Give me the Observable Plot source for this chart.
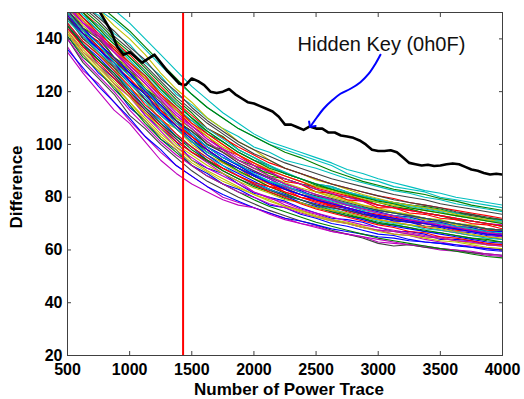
<!DOCTYPE html>
<html>
<head>
<meta charset="utf-8">
<script src="https://cdn.jsdelivr.net/npm/d3@7"></script>
<script src="https://cdn.jsdelivr.net/npm/@observablehq/plot@0.6"></script>
<style>
  html, body { margin: 0; padding: 0; background: #fff; }
  #chart svg { display: block; }
</style>
</head>
<body>
<div id="chart"></div>
<script>
// ---- data ----
const traceCounts = [500,625,750,875,1000,1125,1250,1375,1500,1625,1750,1875,2000,2125,2250,2375,2500,2625,2750,2875,3000,3125,3250,3375,3500,3625,3750,3875,4000];

const keyTraces = [
  [144,138,130,125,119,111,106,101,94,91,89,85,81.5,80,78.5,76,74,72,71.5,70.5,68.5,67,67,66,64,64,63.5,62,62],
  [153,144,141,133,129,121,117,110,106,100,98,94,92,88,87,85,83,81,80,79,77,76,75.5,74,73,71.5,71,70,69],
  [149,140,137,129,125,117,113,107,101,98,93,91,87,84,83,80,79,76.5,76,73.5,73,71,71,69,69,67.5,67,66.5,65],
  [162,157,151,147,142,136,130,124,119,114,110,106,103,100,98,96,94,92,89,87,86,84,83,82,80,79,78,77,76],
  [137,128,123,116,109,103,97,92,88,84,80,78,76,74,72,70,69,67,66,65,63,62.5,62,61,60,59.5,59,58,57.5],
  [156,150,144,140,133,128,121,116,110,104,100,96,93,89,87,85,82,80.5,79,77,76,74.5,73,72,71,70,69,68,67],
  [155,148,143,136,131,126,119,113,109,104,101,97,94,92,89,87,85,84,82,80.5,79,78,77,76,75,74,73,72,71],
  [141,134,127,122,114,109,102,98,92,89,85,83,80,77,76,73.5,72,70,69,67.5,66,65.5,64,63,62.5,61.5,61,60,59.5],
  [150,142,139,131,127,119,115,109,105,100,97,94,91,89,87,85,84,83,81,80,79,78,77,76.5,75.5,74,73.5,72,71.5],
  [153,147,141,136,130,125,118,113,107,103,98,96,92,90,86,85,82,81.5,79,78.5,76,76,74,73.5,72,71.5,70,69.5,68],
  [159,152,149,142,138,131,126,119,115,110,106,103,99,97,94,92.5,91,89,87,85.5,84,82.5,81.5,80,79,77.5,76.5,75.5,74.5],
  [143,135,130,123,118,111,105,99,95,91,88,85,82,79.5,78,75.5,74,72.5,71,69.5,68.5,67.5,66.5,65.5,65,63.5,63,62,61.5],
  [147,141,134,129,121,117,109,106,100,96,93,89.5,87,85,83,81,80,78,77,75.5,74.5,73,72.5,71.5,70.5,69.5,68.5,67,67],
  [140,131,125,119,111,106,100,95,90,86,83,80,77.5,75,73,71,69.5,67.5,66,64.5,62.5,61.5,62,61,60.5,60,59,58.5,58],
  [146,138,133,127,121,114,109,103,99,94,91,88,85,83,81,79,77.5,76,75,73.5,72,71.5,70.5,70,69,68,67.5,66,66],
  [157,151,146,140,135,129,123,117,112,106,103,98,95,92,89,87,84.5,83,81,79,78,76.5,75.5,74,73,72,71,70,69],
  [151,143,139,132,127,120,114,108,103,98,94,91,88,85,82,80,78,76.5,74.5,73,71.5,70.5,69.5,68.5,67.5,66.5,65.5,65,64],
  [155,149,143,138,132,126,120,114,109,105,101,97,94,91.5,89,87,85,84,82,80.5,79,78,77,76,75,74,72.5,71.5,71],
  [145,137,132,126,120,113,108,102,97,93,89,86,82,80,77,75,73.5,71.5,70,68.5,67.5,66,65.5,64,63,62,61.5,60.5,60],
  [161,154,151,145,140,134,127,121,116,110,106,101,98,94,91,89,86.5,85,83,81,79.5,78,77,76,75,73.5,72.5,71.5,70.5],
  [150,143,137,132,126,121,113,109,103,99,95,92,88.5,86,83.5,81,79.5,78,76,74.5,73,72,71,70,69,68,67,66,65.5],
  [136,129,122,116,110,103,98,92,88,84,81,78.5,76,74,72,71,69.5,68,67,66,65,64.5,63.5,63,62.5,62,61,60.5,60],
  [148,142,136,131,124,119,112,107,102,97,93.5,90,87,84,81.5,79,77,75,73.5,72,70.5,69.5,68.5,67,66.5,65.5,64.5,63.5,63],
  [156,150,145,139,134,128,122,116,111,106,102.5,99,96,93,91,89,87,85,83.5,82,80.5,79.5,78,77,76,75,74,73,72],
  [165,160,156,151,146,140,134,128,122,117,112,108,104,101,99,97,95,93,90.5,89,87,85.5,84,82.5,81.5,80,79,78,77],
  [135,127,120,113,108,101,94,89,85,82,79,77,76,73.5,71.5,70,68.5,67,66,65,64,63,62,61.5,60.5,60,59.5,58.5,58],
  [152,145,140,135,128,122,117,110,106,101,97,94,91,88,85.5,83.5,82,80,78.5,77,75.5,74.5,73.5,72,71.5,70,69.5,68,67.5],
  [158,153,148,143,137,132,125,120,114,109,105,101,98,95.5,93,91,89,87,85.5,84,82.5,81,80,79,77.5,76.5,75.5,74.5,73.5],
  [148,141,136,130,124,117,112,106,101,96,92,89,86,83,80.5,78,76.5,74.5,73,71.5,70,69,68,67,66,65,64,63,62.5],
  [141,133,128,121,115,108,102,97,92,88,85,82,79,76.5,74.5,72.5,70.5,69,67.5,66,64.5,63.5,62.5,61.5,60.5,59.5,58.5,57.5,57],
  [149,142,137,130,125,119,113,107,103,98,94,91,88.5,85,83,81,79,77.5,76,74.5,73,72,71,70.5,69,68,67.5,66,65.5],
  [146,139,134,128,121,116,109,104,99,95,92,88,85.5,83,80.5,79,77,75.5,74,72.5,71,70,69.5,68,67.5,66.5,65.5,64.5,64],
  [152,146,140,135,129,123,117,111,107,102,98.5,95,92,89.5,87,85,83,81.5,80,78.5,77,76,75,74,73,72,71,70,69.5],
  [142,135,129,123,116,110,104,99,94,90,87,84,81,79,76.5,75,73,71.5,70.5,69,67.5,67,66,65,64.5,63.5,62.5,62,61.5],
  [145,137,132,126,119,113,107,102,97,93.5,90,87,84.5,82.5,80.5,79,77,76,75,73.5,72.5,71.5,70.5,70,69,68.5,67.5,67,66],
  [151,144,138,133,127,121,115,109,104,99,95,92,88.5,86,83,81,79,77,75.5,74,72.5,71,70.5,69,68.5,67,66.5,65.5,65],
  [163,158,153,148,143,137,131,125,119,114,110,106,103,100,97,95,92.5,90,88,86,84.5,83,82,81,79.5,78.5,77,76,75],
  [144,137,131,125,119,112,107,101,97,94,91,88,85.5,84,82,80,78.5,77,76,74.5,73.5,72.5,71.5,70.5,70,69,68,67.5,67],
  [156,149,145,139,133,128,121,116,110,106,102,98,95,92,89.5,87,85,83.5,82,80,79,77.5,76.5,75.5,74.5,73,72,71,70.5],
  [140,132,126,120,113,107,101,96,92,88,85,82,80,77.5,76,74,72.5,71,70,68.5,67.5,67,66,65,64.5,63.5,63,62,61.5],
  [154,147,142,137,131,125,119,113,108,103,99,96,93,90.5,88,86,84,82.5,81,79.5,78,77,76,75,74,73,72,71,70],
  [148,140,135,129,123,117,111,106,101,97,94,91,88,86,84,82,80.5,79,77.5,76,75,74,73,72,71,70,69,68,67.5],
  [151,144,138,133,127,120,115,109,104,99,96,92,89.5,87,84,82.5,80,79,77,76,74.5,73,72.5,71,70.5,69,68.5,67,67],
  [145,138,132,127,120,114,108,103,98,94,90,87,84,82,79.5,78,76,74.5,73,72,70,69.5,68.5,67.5,66.5,65.5,64.5,64,63],
  [154,148,142,137,131,126,119,114,108,104,100,96,93,90,88,86,83.5,82,80.5,79,77,76,75,74,73,72,71,70,69],
  [147,141,135,130,123,118,111,106,101,97,94,91,88,86,84,82,80,79,77.5,76,75,74,73,72,71,70,69,68,67.5],
  [153,146,141,135,129,123,117,111,106,101,97,93,90,87,84,82,79.5,78,76,74.5,73,72,71,70,69,68,67,66,65],
  [143,136,130,124,118,112,106,100,96,92,89,86,83.5,81.5,79,78,76,75,74,72.5,71.5,70.5,69.5,69,68,67,66,65,64.5],
  [151,144,140,133,128,121,116,109,105,100,97,93,90,87.5,85,83,81,79.5,78,76.5,75,74,73,72,71,70,69,68,67.5],
  [149,142,136,131,124,119,112,107,102,98,94,91,88,85.5,83,81,79,77.5,76,74.5,73,72,71,70,69,68,67,66,65.5],
  [155,150,144,138,133,127,121,115,110,105,101,97,94,91,89,87,85,83,81.5,80,78.5,77.5,76,75,74,73,72,71,70],
  [146,139,134,128,122,115,110,104,99,95,91,88,85,82,80,77.5,75.5,74,72.5,71,69.5,68.5,67,66.5,65,64.5,63.5,62.5,62],
  [150,143,138,131,126,121,114,108,104,99,95,92.5,89,86,84.5,82,80,78.5,77,75,74,73,72,70.5,70,69,68,67,66.5],
  [153,146,142,135,130,124,118,112,107,102,98,94,91,88,85,83,81,79,77,75.5,74,73,71.5,70.5,69.5,68.5,67.5,66.5,66],
  [142,134,128,122,116,109,103,98,93,89.5,86,83.5,81,78.5,76.5,74.5,72.5,71,70,68.5,67,66,65.5,64.5,63.5,63,62,61,60.5],
  [158,152,147,141,136,130,124,118,113,108,104,100,96.5,94,91,89,87,85,83.5,82,80.5,79,78,77,76,74.5,73.5,72.5,71.5]
];

// MATLAB default line colour order
const keyColors = ["#0000ff","#008000","#ff0000","#00bfbf","#bf00bf","#bfbf00","#404040"];

const hiddenKeyCounts = [500,550,600,650,700,750,800,850,900,950,1000,1050,1100,1150,1200,1250,1300,1350,1400,1450,1500,1550,1600,1650,1700,1750,1800,1850,1900,1950,2000,2050,2100,2150,2200,2250,2300,2350,2400,2450,2500,2550,2600,2650,2700,2750,2800,2850,2900,2950,3000,3050,3100,3150,3200,3250,3300,3350,3400,3450,3500,3550,3600,3650,3700,3750,3800,3850,3900,3950,4000];
const hiddenKeyDiff = [166,163,160,157,153.5,151,147,143,137,134,135,133,131,132.5,134,131,128,125.5,123,122.5,125,124,122.5,120,119.5,120,121,119,117.5,116,115.5,114.5,113.5,112.5,110.5,107.5,107.5,106.5,105.5,106.8,106,106,104.5,104.5,103.4,103,102.5,101.5,100,98,97.5,97.5,97.8,97,95,93,92.5,92,92.3,91.8,92,92.5,92.8,92.5,91.5,90.5,90,89.2,88.6,88.9,88.6];

const revealCount = [1430];

const xTicks = [500,1000,1500,2000,2500,3000,3500,4000];
const yTicks = [20,40,60,80,100,120,140];

const annotationLabel = ["Hidden Key (0h0F)"];
const annotationAt = [3026, 137.9];
const arrowPathX = [3018, 2978, 2924, 2857, 2777, 2696, 2630, 2562, 2509, 2461];
const arrowPathY = [134.0, 130.6, 126.8, 123.6, 121.1, 119.2, 116.7, 113.6, 110.4, 107.2];

// ---- tables built from the arrays ----
const traceRows = keyTraces.flatMap((vals, k) =>
  vals.map((v, i) => ({count: traceCounts[i], diff: v, key: k, color: keyColors[k % keyColors.length]})));
const hiddenRows = hiddenKeyCounts.map((c, i) => ({count: c, diff: hiddenKeyDiff[i]}));
const arrowRows = arrowPathX.map((x, i) => ({count: x, diff: arrowPathY[i]}));

const frameColor = "#404040";
const plain = d3.format("d");

const chart = Plot.plot({
  width: 524,
  height: 399,
  marginLeft: 67,
  marginRight: 22,
  marginTop: 12,
  marginBottom: 44,
  style: {fontFamily: "'Liberation Sans', Arial, Helvetica, sans-serif", fontSize: "16px", fontWeight: "bold", color: "#000", background: "#fff"},
  x: {domain: [500, 4000]},
  y: {domain: [20, 150]},
  color: {type: "identity"},
  marks: [
    Plot.line(traceRows, {x: "count", y: "diff", z: "key", stroke: "color", strokeWidth: 1.1, clip: true}),
    Plot.line(hiddenRows, {x: "count", y: "diff", stroke: "#000", strokeWidth: 2.6, clip: true}),
    Plot.ruleX(revealCount, {stroke: "#ff0000", strokeWidth: 2}),
    Plot.line(arrowRows, {x: "count", y: "diff", stroke: "#0000ff", strokeWidth: 2, curve: "catmull-rom", markerEnd: "arrow"}),
    Plot.text(annotationLabel, {x: () => annotationAt[0], y: () => annotationAt[1], text: d => d, fontSize: 20, fontWeight: "normal", fill: "#111"}),
    Plot.frame({stroke: frameColor}),
    Plot.axisX({ticks: xTicks, anchor: "bottom", tickSize: -4, tickPadding: 12, tickFormat: plain, stroke: frameColor, fill: "#000", label: null, fontSize: 16, fontWeight: "bold"}),
    Plot.axisX({ticks: xTicks, anchor: "top", tickSize: -4, stroke: frameColor, tickFormat: () => "", label: null}),
    Plot.axisY({ticks: yTicks, anchor: "left", tickSize: -4, tickPadding: 9, tickFormat: plain, stroke: frameColor, fill: "#000", label: null, fontSize: 16, fontWeight: "bold"}),
    Plot.axisY({ticks: yTicks, anchor: "right", tickSize: -4, stroke: frameColor, tickFormat: () => "", label: null}),
    Plot.text(["Number of Power Trace"], {frameAnchor: "bottom", lineAnchor: "middle", textAnchor: "middle", dx: 4, dy: 34.5, fontSize: 17, fontWeight: "bold", fill: "#000", letterSpacing: "0.7px"}),
    Plot.text(["Difference"], {frameAnchor: "left", lineAnchor: "middle", textAnchor: "middle", rotate: -90, dx: -51, dy: 3, fontSize: 17, fontWeight: "bold", fill: "#000", letterSpacing: "1px"})
  ]
});

document.getElementById("chart").appendChild(chart);
</script>
</body>
</html>
